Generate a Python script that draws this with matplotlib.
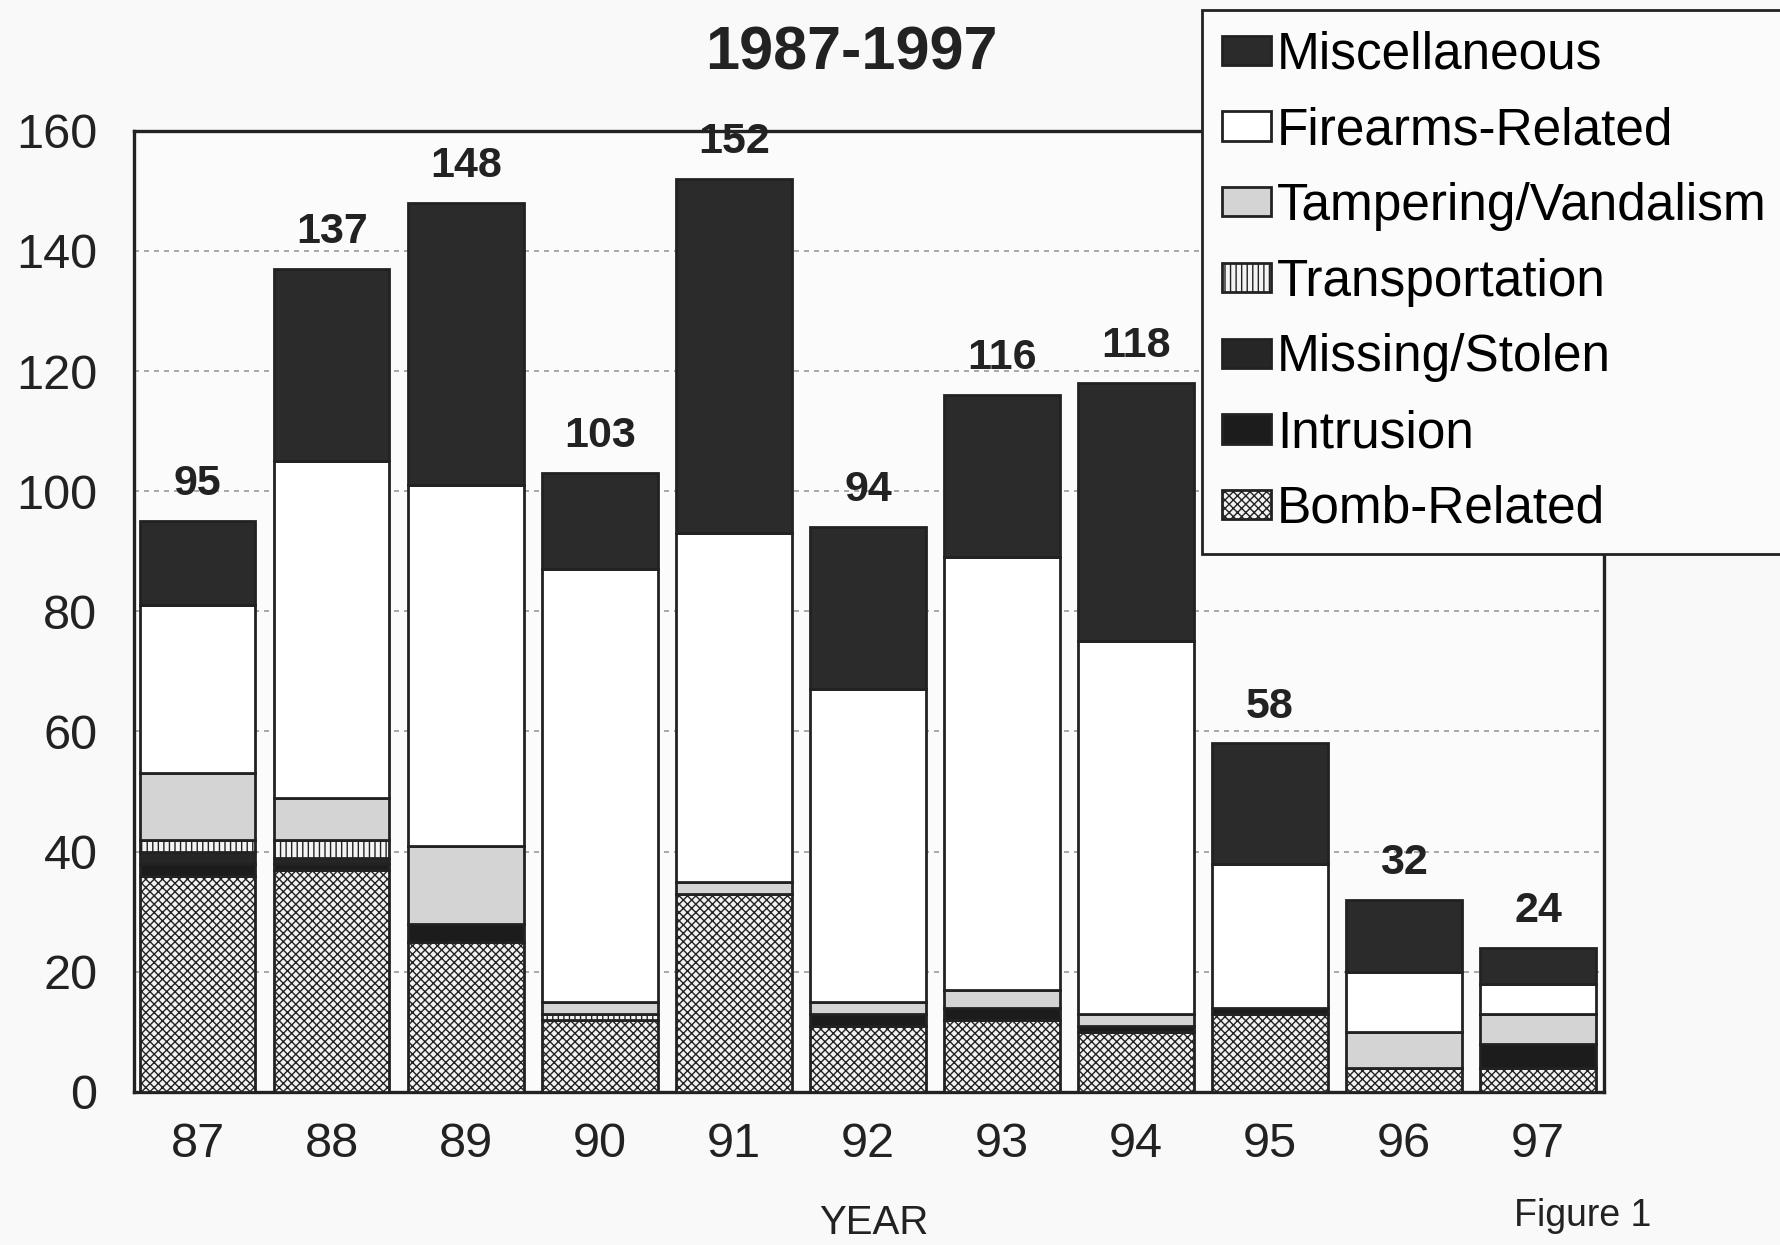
import matplotlib
matplotlib.use("Agg")
import matplotlib.pyplot as plt
import numpy as np

# data (bottom of stack first)
years = ["87", "88", "89", "90", "91", "92", "93", "94", "95", "96", "97"]
bomb = [36, 37, 25, 12, 33, 11, 12, 10, 13, 4, 4]
intrusion = [2, 1, 3, 0, 0, 2, 2, 1, 1, 0, 4]
missing = [2, 1, 0, 0, 0, 0, 0, 0, 0, 0, 0]
transport = [2, 3, 0, 1, 0, 0, 0, 0, 0, 0, 0]
tampering = [11, 7, 13, 2, 2, 2, 3, 2, 0, 6, 5]
firearms = [28, 56, 60, 72, 58, 52, 72, 62, 24, 10, 5]
misc = [14, 32, 47, 16, 59, 27, 27, 43, 20, 12, 6]

series = [
    ("Bomb-Related", bomb, "#f2f2f2", "xxxx"),
    ("Intrusion", intrusion, "#1c1c1c", None),
    ("Missing/Stolen", missing, "#262626", None),
    ("Transportation", transport, "#f4f4f4", "|||"),
    ("Tampering/Vandalism", tampering, "#d4d4d4", None),
    ("Firearms-Related", firearms, "#ffffff", None),
    ("Miscellaneous", misc, "#2b2b2b", None),
]

plt.rcParams['font.family'] = ['Liberation Sans', 'DejaVu Sans']
plt.rcParams['hatch.linewidth'] = 1.0
plt.rcParams['hatch.color'] = '#333333'

fig = plt.figure(figsize=(17.8, 12.45), dpi=100, facecolor='#f9f9f9')
ax = fig.add_axes([0.075, 0.123, 0.826, 0.772])
ax.set_facecolor('#fbfbfb')

x = np.arange(len(years))
base = np.zeros(len(years))
handles = {}
for name, vals, col, hatch in series:
    b = ax.bar(x, vals, 0.86, bottom=base, color=col, edgecolor='#222222',
               linewidth=2.0, hatch=hatch, label=name, zorder=3)
    handles[name] = b
    base = base + np.array(vals)

for xi, tot in zip(x, base):
    ax.text(xi, tot + 2.8, "%d" % tot, ha='center', va='bottom',
            fontsize=31, fontweight='bold', color='#222222')

ax.set_ylim(0, 160)
ax.set_xlim(-0.48, 10.49)
ax.set_yticks(range(0, 161, 20))
ax.set_xticks(x)
ax.set_xticklabels(years)
ax.tick_params(axis='y', length=0, pad=26, labelsize=35, colors='#222222')
ax.tick_params(axis='x', length=0, pad=22, labelsize=35, colors='#222222')
ax.yaxis.grid(True, linestyle=(0, (3, 3)), color='#9a9a9a', linewidth=1.2, zorder=0)
ax.set_axisbelow(True)
for s in ax.spines.values():
    s.set_linewidth(2.4)
    s.set_color('#222222')

fig.text(0.478, 0.957, "1987-1997", ha='center', va='center', fontsize=44,
         fontweight='bold', color='#222222')
fig.text(0.491, 0.018, "YEAR", ha='center', va='center', fontsize=29, color='#222222')
fig.text(0.889, 0.023, "Figure 1", ha='center', va='center', fontsize=27, color='#222222')

order = ["Miscellaneous", "Firearms-Related", "Tampering/Vandalism", "Transportation",
         "Missing/Stolen", "Intrusion", "Bomb-Related"]
leg = fig.legend([handles[n] for n in order], order, loc='upper left',
                 bbox_to_anchor=(0.675, 0.992), fontsize=37, frameon=True,
                 fancybox=False, framealpha=1, edgecolor='#222222',
                 handlelength=0.95, handleheight=0.5, handletextpad=0.12,
                 labelspacing=0.52, borderpad=0.4, borderaxespad=0)
leg.get_frame().set_linewidth(2.0)
leg.get_frame().set_facecolor('#fbfbfb')

fig.savefig("out.png", dpi=100, facecolor=fig.get_facecolor())
